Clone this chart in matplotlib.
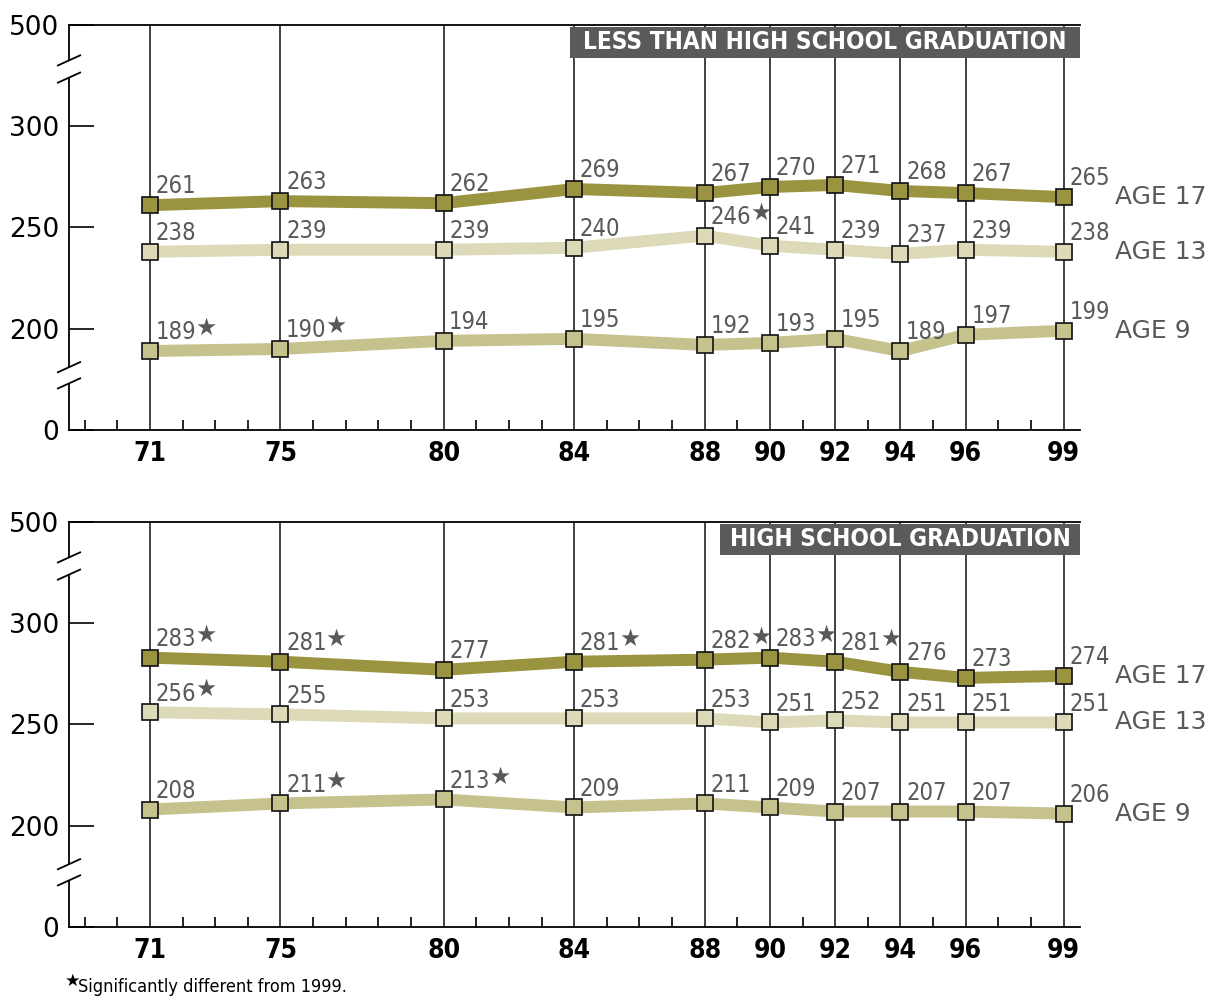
import matplotlib
matplotlib.use("Agg")
import matplotlib.pyplot as plt
import matplotlib.patches as patches
from matplotlib import font_manager
from matplotlib.transforms import blended_transform_factory

years = [71, 75, 80, 84, 88, 90, 92, 94, 96, 99]
minor_years = list(range(69, 99))
ytick_pos = [150, 200, 250, 300, 350]
ytick_labels = ["0", "200", "250", "300", "500"]

# less than high school graduation
less_17 = [261, 263, 262, 269, 267, 270, 271, 268, 267, 265]
less_13 = [238, 239, 239, 240, 246, 241, 239, 237, 239, 238]
less_9 = [189, 190, 194, 195, 192, 193, 195, 189, 197, 199]
less_17_star = [0, 0, 0, 0, 0, 0, 0, 0, 0, 0]
less_13_star = [0, 0, 0, 0, 1, 0, 0, 0, 0, 0]
less_9_star = [1, 1, 0, 0, 0, 0, 0, 0, 0, 0]

# high school graduation
hs_17 = [283, 281, 277, 281, 282, 283, 281, 276, 273, 274]
hs_13 = [256, 255, 253, 253, 253, 251, 252, 251, 251, 251]
hs_9 = [208, 211, 213, 209, 211, 209, 207, 207, 207, 206]
hs_17_star = [1, 1, 0, 1, 1, 1, 1, 0, 0, 0]
hs_13_star = [1, 0, 0, 0, 0, 0, 0, 0, 0, 0]
hs_9_star = [0, 1, 1, 0, 0, 0, 0, 0, 0, 0]

age_names = ["AGE 17", "AGE 13", "AGE 9"]
age_colors = ["#9a933f", "#dcdab8", "#c6c28e"]

LABEL_GRAY = "#595959"

# look for a narrow face, the original uses a condensed type
NARROW = "DejaVu Sans"
NARROW_STRETCH = "normal"
for f in font_manager.fontManager.ttflist:
    if "Narrow" in f.name or "Condensed" in f.name or f.stretch in (
            "condensed", "extra-condensed", "semi-condensed"):
        NARROW = f.name
        NARROW_STRETCH = f.stretch
        if "Narrow" in f.name or f.stretch == "condensed":
            break
IS_NARROW = NARROW_STRETCH != "normal" or NARROW != "DejaVu Sans"
NUM_SIZE = 17 if IS_NARROW else 14
YEAR_SIZE = 19 if IS_NARROW else 17
BOX_SIZE = 17.5 if IS_NARROW else 16


def narrow_kw(weight="normal"):
    return dict(family=[NARROW, "DejaVu Sans"], fontstretch=NARROW_STRETCH,
                fontweight=weight)


def draw_panel(ax, title, box_x0, series, stars):
    ax.set_xlim(68.52, 99.5)
    ax.set_ylim(150, 350)
    for s in ["left", "right"]:
        ax.spines[s].set_visible(False)
    for s in ["top", "bottom"]:
        ax.spines[s].set_linewidth(1.3)
        ax.spines[s].set_color("black")

    ax.vlines(years, 150, 350, color="#333333", lw=1.3, zorder=1)

    # left axis with breaks
    tr = blended_transform_factory(ax.transAxes, ax.transData)
    for y0, y1 in [(150, 172.5), (181, 323.5), (332.5, 350)]:
        ax.plot([0, 0], [y0, y1], color="black", lw=1.3, transform=tr, clip_on=False)
    for c in [173, 181, 324, 332.5]:
        ax.plot([-0.011, 0.011], [c - 2.5, c + 2.5], color="black", lw=1.3,
                transform=tr, clip_on=False)

    ax.set_xticks(years)
    ax.set_xticklabels([str(y) for y in years], fontsize=YEAR_SIZE, **narrow_kw("bold"))
    ax.set_xticks(minor_years, minor=True)
    ax.tick_params(axis="x", which="major", length=0, pad=8)
    ax.tick_params(axis="x", which="minor", direction="in", length=7, width=1.2)

    ax.set_yticks(ytick_pos)
    ax.set_yticklabels(ytick_labels, fontsize=19)
    ax.tick_params(axis="y", direction="in", length=18, width=1.2, pad=7)

    for vals, flags, color, name in zip(series, stars, age_colors, age_names):
        ax.plot(years, vals, color=color, lw=8.6, solid_capstyle="butt", zorder=3)
        ax.plot(years, vals, ls="none", marker="s", markersize=11.5,
                markerfacecolor=color, markeredgecolor="#111111",
                markeredgewidth=1.2, zorder=4)
        for yr, v, f in zip(years, vals, flags):
            t = ax.annotate(str(v), xy=(yr, v), xytext=(4, 8.5),
                            textcoords="offset points", ha="left", va="baseline",
                            fontsize=NUM_SIZE, color=LABEL_GRAY, zorder=5,
                            **narrow_kw())
            if f:
                ax.annotate("★", xy=(1, 1), xycoords=t, xytext=(-0.5, 3),
                            textcoords="offset points", ha="left", va="top",
                            fontsize=17, color=LABEL_GRAY, family="DejaVu Sans")
        ax.annotate(name, xy=(years[-1], vals[-1]), xytext=(37, 0),
                    textcoords="offset points", ha="left", va="center",
                    fontsize=18, color=LABEL_GRAY, annotation_clip=False)

    box = patches.Rectangle((box_x0, 0.9185), 1 - box_x0, 0.0765,
                            transform=ax.transAxes, facecolor="#5a5a5a",
                            edgecolor="none", zorder=6, clip_on=False)
    ax.add_patch(box)
    ax.text((box_x0 + 1) / 2, 0.9185 + 0.0765 / 2, title, transform=ax.transAxes,
            ha="center", va="center", color="white", fontsize=BOX_SIZE,
            zorder=7, **narrow_kw("bold"))


fig = plt.figure(figsize=(12.17, 9.99), dpi=100)
ax1 = fig.add_axes([0.0567, 0.5696, 0.8307, 0.4054])
ax2 = fig.add_axes([0.0567, 0.0721, 0.8307, 0.4054])

draw_panel(ax1, "LESS THAN HIGH SCHOOL GRADUATION", 0.4955,
           [less_17, less_13, less_9], [less_17_star, less_13_star, less_9_star])
draw_panel(ax2, "HIGH SCHOOL GRADUATION", 0.644,
           [hs_17, hs_13, hs_9], [hs_17_star, hs_13_star, hs_9_star])

fig.text(0.0534, 0.0135, "★", fontsize=12.5, color="black", ha="left", va="baseline")
fig.text(0.0645, 0.0075, "Significantly different from 1999.", fontsize=13,
         color="black", ha="left", va="baseline", **narrow_kw())

fig.savefig("out.png", dpi=100)
